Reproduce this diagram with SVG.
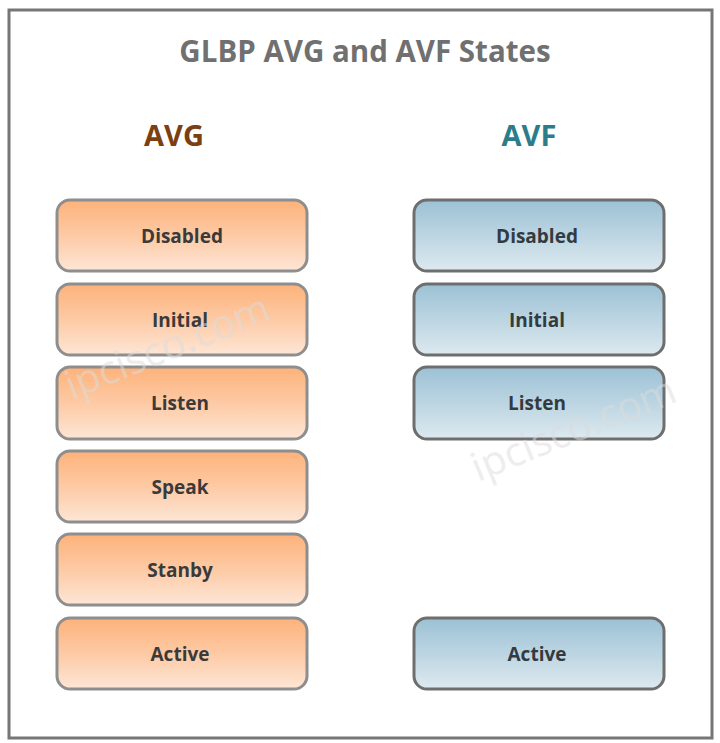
<svg xmlns="http://www.w3.org/2000/svg" width="720" height="743" viewBox="0 0 720 743">
<defs>
<linearGradient id="gOrange" x1="0" y1="0" x2="0" y2="1">
<stop offset="0" stop-color="#fdb27a"/>
<stop offset="0.5" stop-color="#fdcaa5"/>
<stop offset="1" stop-color="#fde6d6"/>
</linearGradient>
<linearGradient id="gBlue" x1="0" y1="0" x2="0" y2="1">
<stop offset="0" stop-color="#9cc1d5"/>
<stop offset="0.5" stop-color="#bcd5e2"/>
<stop offset="1" stop-color="#dde9ef"/>
</linearGradient>
</defs>
<style>
.avg rect{fill:url(#gOrange);stroke:#8e8e8e;stroke-width:3}
.avf rect{fill:url(#gBlue);stroke:#6e6e6e;stroke-width:3}
.lbl{font-family:"Open Sans","Liberation Sans",sans-serif;font-weight:bold;font-size:19px;fill:#3a3a3a;text-anchor:middle}
.avf .lbl{fill:#333b40}
.wm{font-family:"Open Sans","Liberation Sans",sans-serif;font-size:40px;fill:#dcdcdc;opacity:0.5}
</style>
<rect x="0" y="0" width="720" height="743" fill="#ffffff"/>
<rect x="9" y="10" width="703" height="728" fill="#ffffff" stroke="#767676" stroke-width="3"/>
<text x="365" y="62" font-family="Open Sans, Liberation Sans, sans-serif" font-weight="bold" font-size="29.5" fill="#707070" text-anchor="middle">GLBP AVG and AVF States</text>
<text x="174" y="146" font-family="Open Sans, Liberation Sans, sans-serif" font-weight="bold" font-size="29" fill="#7b3f12" text-anchor="middle">AVG</text>
<text x="529" y="146" font-family="Open Sans, Liberation Sans, sans-serif" font-weight="bold" font-size="29" fill="#2c7d8c" text-anchor="middle">AVF</text>
<g id="avg-disabled" class="avg"><rect x="57" y="200" width="250" height="71" rx="13"/><text class="lbl" x="182" y="243">Disabled</text></g>
<g id="avg-initial" class="avg"><rect x="57" y="284" width="250" height="71" rx="13"/><text class="lbl" x="180" y="327">Initial</text></g>
<g id="avg-listen" class="avg"><rect x="57" y="367" width="250" height="72" rx="13"/><text class="lbl" x="180" y="410">Listen</text></g>
<g id="avg-speak" class="avg"><rect x="57" y="451" width="250" height="71" rx="13"/><text class="lbl" x="180" y="494">Speak</text></g>
<g id="avg-standby" class="avg"><rect x="57" y="534" width="250" height="71" rx="13"/><text class="lbl" x="180" y="577">Stanby</text></g>
<g id="avg-active" class="avg"><rect x="57" y="618" width="250" height="71" rx="13"/><text class="lbl" x="180" y="661">Active</text></g>
<g id="avf-disabled" class="avf"><rect x="414" y="200" width="250" height="71" rx="13"/><text class="lbl" x="537" y="243">Disabled</text></g>
<g id="avf-initial" class="avf"><rect x="414" y="284" width="250" height="71" rx="13"/><text class="lbl" x="537" y="327">Initial</text></g>
<g id="avf-listen" class="avf"><rect x="414" y="367" width="250" height="72" rx="13"/><text class="lbl" x="537" y="410">Listen</text></g>
<g id="avf-active" class="avf"><rect x="414" y="618" width="250" height="71" rx="13"/><text class="lbl" x="537" y="661">Active</text></g>
<g id="connectors"></g>
<text class="wm" transform="translate(72,400) rotate(-22)">ipcisco.com</text>
<text class="wm" transform="translate(478,482) rotate(-22)">ipcisco.com</text>
</svg>
